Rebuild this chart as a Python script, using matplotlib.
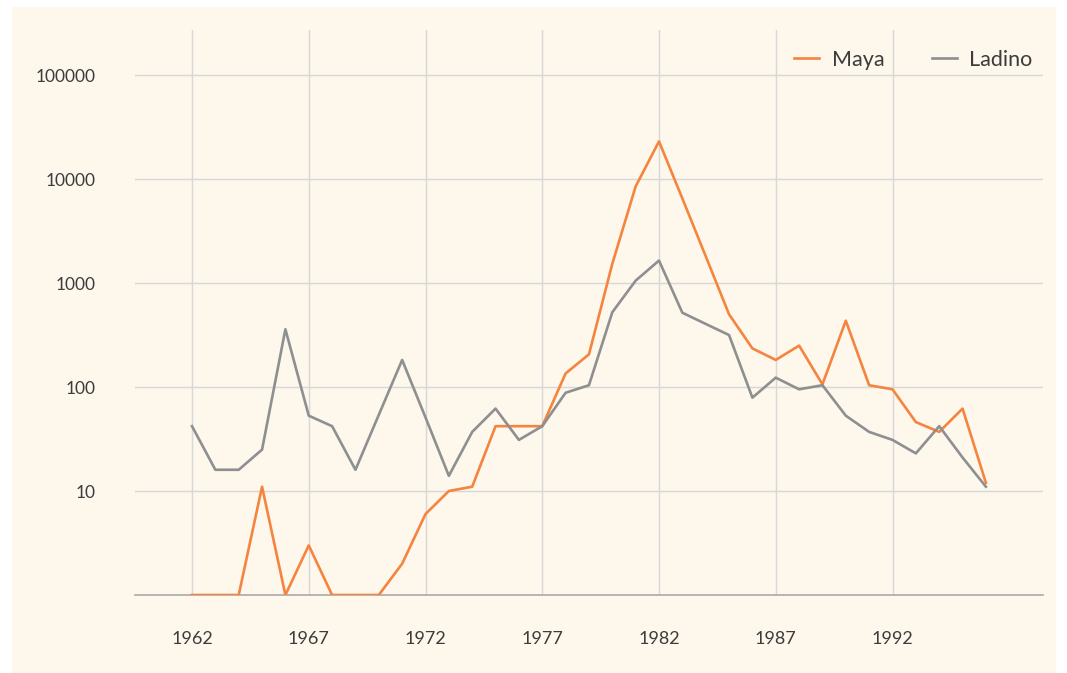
import numpy as np
import matplotlib.pyplot as plt
from matplotlib.patches import Rectangle

# Roczne liczby ofiar, 1962-1996
years = list(range(1962, 1997))
maya = [0, 0, 0, 11, 0, 3, 0, 0, 0, 2, 6, 10, 11, 42, 42, 42, 135, 206, 1530, 8490,
        23000, 6500, 1810, 500, 235, 182, 250, 106, 434, 104, 95, 46, 37, 62, 12]
ladino = [42, 16, 16, 25, 359, 53, 42, 16, 54, 182, 51, 14, 37, 62, 31, 42, 88, 104, 523, 1054,
          1644, 518, 404, 316, 79, 123, 95, 104, 53, 37, 31, 23, 42, 21, 11]
year_ticks = [1962, 1967, 1972, 1977, 1982, 1987, 1992]
value_ticks = [10, 100, 1000, 10000, 100000]

orange = '#f5843f'
grey = '#8e8f90'
cream = '#fdf7ec'
text_col = '#3c3c3c'

plt.rcParams['font.family'] = ['Lato', 'DejaVu Sans']

fig = plt.figure(figsize=(10.67, 6.73), dpi=100)
fig.patch.set_facecolor('white')
# kremowe tło
fig.patches.append(Rectangle((12 / 1067, 0), 1044 / 1067, 1 - 7 / 673,
                             transform=fig.transFigure, facecolor=cream,
                             edgecolor='none', zorder=-10))

ax = fig.add_axes([135 / 1067, 1 - 595 / 673, 908 / 1067, 565 / 673])
ax.set_facecolor('none')

# zera na skali log rysowane na osi (wartość 1)
ax.plot(years, np.clip(maya, 1, None), color=orange, lw=1.9, label='Maya', zorder=3)
ax.plot(years, np.clip(ladino, 1, None), color=grey, lw=1.9, label='Ladino', zorder=3)

ax.set_yscale('log')
ax.set_ylim(1, 10 ** (565 / 104))
ax.set_xlim(1962 - 57 / 23.35, 1962 + 851 / 23.35)

ax.set_yticks(value_ticks)
ax.set_yticklabels([str(v) for v in value_ticks])
ax.yaxis.set_minor_locator(plt.NullLocator())
ax.set_xticks(year_ticks)
ax.set_xticklabels([str(y) for y in year_ticks])

ax.grid(True, color='#d8d8d6', lw=1)
ax.set_axisbelow(True)
for side in ['top', 'right', 'left']:
    ax.spines[side].set_visible(False)
ax.spines['bottom'].set_color('#a9a9a9')
ax.spines['bottom'].set_linewidth(1.2)

ax.tick_params(axis='y', length=0, pad=28, labelsize=12.5, labelcolor=text_col)
ax.tick_params(axis='x', length=0, pad=26, labelsize=13, labelcolor=text_col)

leg = ax.legend(loc='upper right', ncol=2, frameon=False, fontsize=15.5,
                handlelength=1.15, handletextpad=0.6, columnspacing=2.2,
                bbox_to_anchor=(1.01, 0.999))
for t in leg.get_texts():
    t.set_color(text_col)

fig.savefig('out.png', dpi=100, facecolor=fig.get_facecolor())
